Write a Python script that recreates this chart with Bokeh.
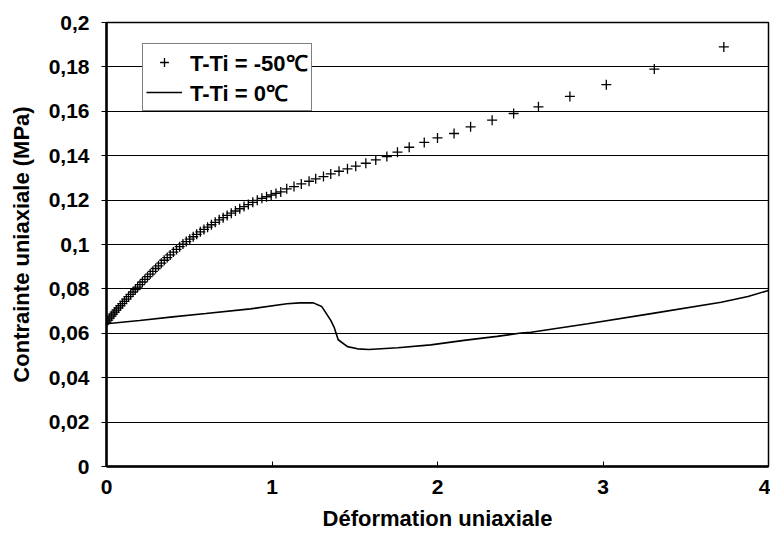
from bokeh.plotting import figure
from bokeh.models import FixedTicker, Legend, LegendItem, Range1d
from bokeh.embed import file_html
from bokeh.resources import INLINE

# T-Ti = -50 C  (markers)
strain_m50 = [0, 0.01, 0.02, 0.03, 0.04, 0.05, 0.06, 0.072, 0.084, 0.096, 0.108, 0.12,
              0.133, 0.146, 0.16, 0.174, 0.188, 0.202, 0.217, 0.232, 0.248, 0.264, 0.28,
              0.297, 0.314, 0.331, 0.349, 0.367, 0.385, 0.404, 0.423, 0.442, 0.462,
              0.482, 0.503, 0.524, 0.545, 0.567, 0.589, 0.611, 0.634, 0.657, 0.681, 0.705,
              0.729, 0.754, 0.779, 0.805, 0.831, 0.857, 0.884, 0.911, 0.939, 0.967, 0.995,
              1.024, 1.053, 1.089, 1.133, 1.177, 1.224, 1.264, 1.311, 1.355, 1.405, 1.456,
              1.506, 1.567, 1.627, 1.694, 1.758, 1.829, 1.92, 2.00, 2.10, 2.20, 2.33, 2.46,
              2.61, 2.80, 3.02, 3.31, 3.73]
stress_m50 = [0.0650, 0.0659, 0.0668, 0.0677, 0.0686, 0.0695, 0.0704, 0.0714, 0.0724, 0.0734,
              0.0744, 0.0754, 0.0765, 0.0775, 0.0786, 0.0797, 0.0808, 0.0819, 0.0831, 0.0843,
              0.0855, 0.0867, 0.0879, 0.0892, 0.0904, 0.0916, 0.0929, 0.0941, 0.0953, 0.0966,
              0.0978, 0.0990, 0.1002, 0.1013, 0.1024, 0.1035, 0.1046, 0.1057, 0.1068, 0.1078,
              0.1089, 0.1100, 0.1111, 0.1121, 0.1131, 0.1141, 0.1151, 0.1161, 0.1171, 0.1180,
              0.1190, 0.1199, 0.1208, 0.1215, 0.1223, 0.1230, 0.1237, 0.1251, 0.1261, 0.1273,
              0.1285, 0.1296, 0.1306, 0.1318, 0.1330, 0.1341, 0.1353, 0.1366, 0.1381, 0.1396,
              0.1416, 0.1438, 0.1460, 0.1480, 0.1500, 0.1530, 0.1560, 0.1590, 0.1620, 0.1667,
              0.1720, 0.1790, 0.1890]

# T-Ti = 0 C  (line)
strain_0 = [0, 0.2, 0.4, 0.6, 0.87, 1.09, 1.17, 1.25, 1.30, 1.355, 1.375, 1.40, 1.456,
            1.517, 1.585, 1.76, 1.96, 2.16, 2.36, 2.505, 2.565, 2.908, 3.31, 3.714, 3.876, 4.0]
stress_0 = [0.0643, 0.0658, 0.0674, 0.0689, 0.0710, 0.0733, 0.0737, 0.0737, 0.0721, 0.0658,
            0.0628, 0.0571, 0.0540, 0.0530, 0.0527, 0.0535, 0.0548, 0.0568, 0.0586, 0.0601,
            0.0605, 0.0643, 0.0691, 0.0740, 0.0766, 0.0793]

x_ticks = [0, 1, 2, 3, 4]
y_ticks = [0, 0.02, 0.04, 0.06, 0.08, 0.1, 0.12, 0.14, 0.16, 0.18, 0.2]
y_tick_labels = ["0", "0,02", "0,04", "0,06", "0,08", "0,1", "0,12", "0,14", "0,16", "0,18", "0,2"]

FONT = "Liberation Sans"

p = figure(width=770, height=544, output_backend="svg", toolbar_location=None,
           x_range=Range1d(0, 4), y_range=Range1d(0, 0.2),
           min_border_left=106, min_border_top=22, min_border_right=2, min_border_bottom=78)
p.background_fill_color = "white"
p.border_fill_color = "white"
p.outline_line_color = "black"
p.outline_line_width = 1.5

p.xgrid.visible = False
p.ygrid.ticker = FixedTicker(ticks=y_ticks)
p.ygrid.grid_line_color = "black"
p.ygrid.grid_line_width = 1

p.xaxis.ticker = FixedTicker(ticks=x_ticks)
p.yaxis.ticker = FixedTicker(ticks=y_ticks)
p.yaxis.major_label_overrides = {t: l for t, l in zip(y_ticks, y_tick_labels)}
p.xaxis.major_label_overrides = {t: str(t) for t in x_ticks}

for ax in (p.xaxis, p.yaxis):
    ax.axis_line_color = "black"
    ax.axis_line_width = 2.5
    ax.major_tick_line_color = "black"
    ax.major_tick_line_width = 1
    ax.minor_tick_line_color = None
    ax.major_label_text_font = FONT
    ax.major_label_text_font_style = "bold"
    ax.major_label_text_font_size = "21px"
    ax.major_label_text_color = "black"
    ax.axis_label_text_font = FONT
    ax.axis_label_text_font_style = "bold"
    ax.axis_label_text_font_size = "22px"
    ax.axis_label_text_color = "black"

p.xaxis.major_tick_in = 5
p.xaxis.major_tick_out = 0
p.xaxis.major_label_standoff = 13
p.xaxis.axis_label = "Déformation uniaxiale"
p.xaxis.axis_label_standoff = 9

p.yaxis.major_tick_in = 0
p.yaxis.major_tick_out = 5
p.yaxis.major_label_standoff = 12
p.yaxis.axis_label = "Contrainte uniaxiale (MPa)"
p.yaxis.axis_label_standoff = 12

r1 = p.scatter(strain_m50, stress_m50, marker="cross", size=10, line_color="black",
               line_width=1.3)
r2 = p.line(strain_0, stress_0, line_color="black", line_width=1.6)

legend = Legend(items=[LegendItem(label="T-Ti = -50℃", renderers=[r1]),
                       LegendItem(label="T-Ti = 0℃", renderers=[r2])],
                location=(36, 355))
legend.border_line_color = "black"
legend.border_line_width = 1
legend.background_fill_color = "white"
legend.background_fill_alpha = 1
legend.label_text_font = FONT
legend.label_text_font_style = "bold"
legend.label_text_font_size = "22px"
legend.label_text_color = "black"
legend.glyph_width = 36
legend.glyph_height = 22
legend.label_height = 22
legend.label_standoff = 8
legend.spacing = 0
legend.padding = 3
legend.margin = 0
p.add_layout(legend)

open("out.html", "w").write(file_html(p, INLINE))
